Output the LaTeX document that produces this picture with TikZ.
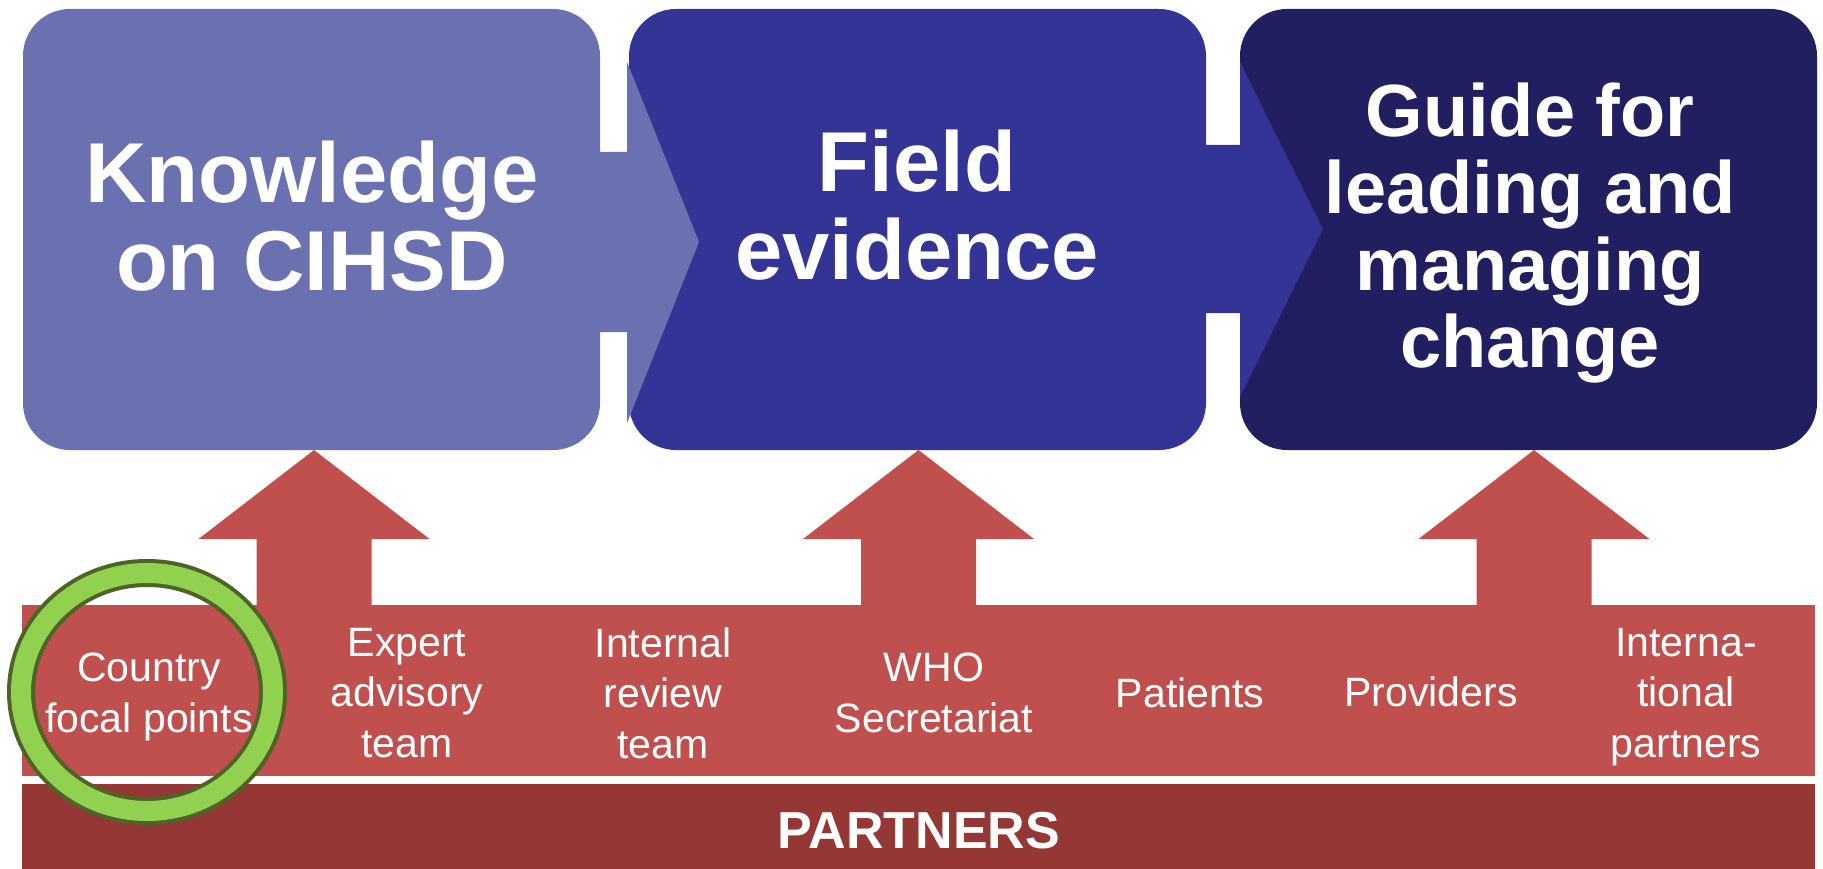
\documentclass[tikz,border=0pt]{standalone}
\usepackage{fontspec}
\setmainfont{Liberation Sans}
\usetikzlibrary{shapes.geometric}
\definecolor{boxA}{RGB}{106,112,176}
\definecolor{boxB}{RGB}{52,52,150}
\definecolor{boxC}{RGB}{33,31,96}
\definecolor{redA}{RGB}{192,80,77}
\definecolor{redB}{RGB}{149,55,53}
\definecolor{ringG}{RGB}{146,208,80}
\definecolor{ringD}{RGB}{79,98,40}
\begin{document}
\begin{tikzpicture}[x=1pt,y=-1pt,
  stagebox/.style={rectangle, rounded corners=47pt, inner sep=0pt, minimum width=577pt, minimum height=441pt},
  stagetext/.style={text=white, font=\bfseries\fontsize{85}{88}\selectfont, align=center, inner sep=0pt},
  partner/.style={text=white, font=\fontsize{41}{50.5}\selectfont, align=center, inner sep=0pt},
  band/.style={anchor=north west, inner sep=0pt, minimum width=1793pt},
]
\fill[white] (0,0) rectangle (1823,869);
\useasboundingbox (0,0) rectangle (1823,869);
% stage boxes
\node[stagebox, fill=boxA] (k) at (311.5,229.5) {};
\node[stagebox, fill=boxB] (f) at (917.5,229.5) {};
\fill[boxA] (595,152) -- (627,152) -- (627,62) -- (699,242) -- (627,423) -- (627,332) -- (595,332) -- cycle;
\node[stagebox, fill=boxC] (g) at (1528.5,229.5) {};
\fill[boxB] (1200,145) -- (1240,145) -- (1240,62) -- (1323,229) -- (1240,397) -- (1240,313) -- (1200,313) -- cycle;
\node[stagetext] (kt) at (312,216) {Knowledge\\on CIHSD};
\node[stagetext] (ft) at (917,205) {Field\\evidence};
\node[stagetext, font=\bfseries\fontsize{74}{77}\selectfont] (gt) at (1530,233) {Guide for\\leading and\\managing\\change};
% partner band
\node[band, fill=redA, minimum height=171pt] (pband) at (22,605) {};
\node[band, fill=redB, minimum height=85pt] (dband) at (22,784) {};
\node[text=white, font=\bfseries\fontsize{52}{60}\selectfont, anchor=base, inner sep=0pt] (ptitle) at (919,848) {PARTNERS};
% arrows from band to stages
\coordinate (t1) at (314,450);
\coordinate (t2) at (918.5,450);
\coordinate (t3) at (1534,450);
\foreach \t in {t1,t2,t3}{
  \fill[redA] (\t) -- ++(115.5,89) -- ++(-58,0) -- ++(0,72) -- ++(-115,0) -- ++(0,-72) -- ++(-58,0) -- cycle;
}
% partner labels
\node[partner] (p1) at (149,697) {Country\\focal points};
\node[partner] (p2) at (407,693) {Expert\\advisory\\team};
\node[partner] (p3) at (663,693) {Internal\\review\\team};
\node[partner] (p4) at (934,693) {WHO\\Secretariat};
\node[partner] (p5) at (1190,693) {Patients};
\node[partner] (p6) at (1431,692) {Providers};
\node[partner] (p7) at (1686,697) {Interna-\\tional\\partners};
% highlight ring
\node[ellipse, draw=ringD, line width=4pt, double=ringG, double distance=20pt, minimum width=252pt, minimum height=238pt, inner sep=0pt] (ring) at (147,692) {};
\end{tikzpicture}
\end{document}
